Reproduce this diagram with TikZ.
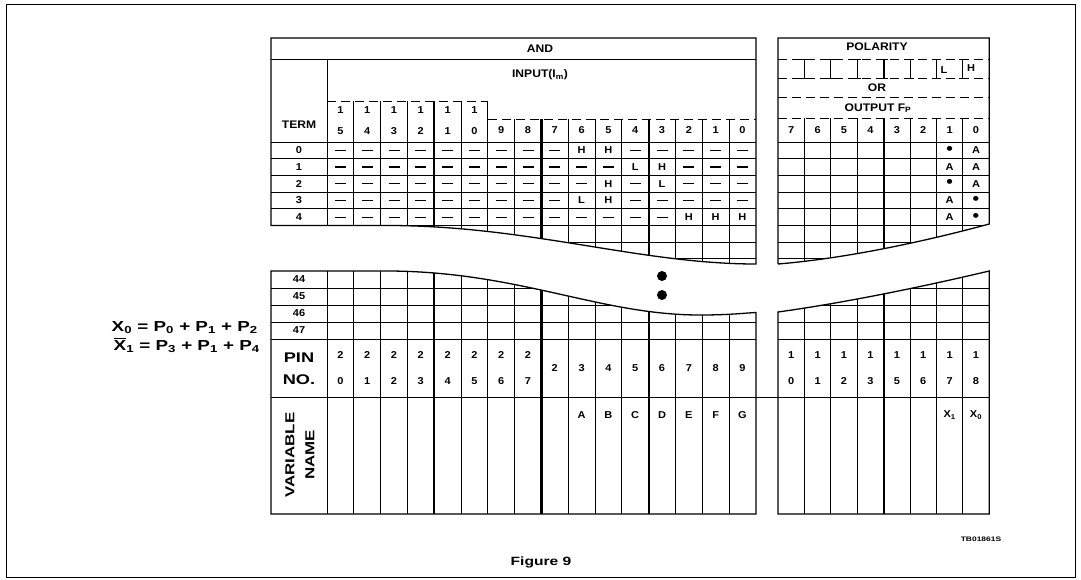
\documentclass[tikz,border=0pt]{standalone}
\usepackage{fontspec}
\setmainfont{Liberation Sans}[FakeStretch=1.1]
\newfontfamily\widefont{Liberation Sans}[FakeStretch=1.3]
\usetikzlibrary{positioning}

% dash in an AND cell, or the letter itself
\newcommand{\andmark}[1]{\edef\tmpa{#1}\def\tmpb{-}\ifx\tmpa\tmpb\rule{11pt}{1.3pt}\else#1\fi}
% complemented output name
\newcommand{\barX}{{\setbox0\hbox{X}\rlap{\rule[\dimexpr\ht0+1.8pt\relax]{\wd0}{1.2pt}}X}}
\newcommand{\fuse}{{\fontsize{17}{17}\selectfont\textbullet}}

\begin{document}
\begin{tikzpicture}[x=1pt,y=-1pt,
  every node/.style={inner sep=0pt, font=\bfseries\fontsize{10}{12}\selectfont},
  headtext/.style={font=\bfseries\fontsize{11}{13}\selectfont},
  bigtext/.style={font=\widefont\bfseries\fontsize{14}{17}\selectfont},
  gridline/.style={line width=0.9pt},
  sepline/.style={line width=2.2pt},
  frameline/.style={line width=1.3pt},
  dashline/.style={line width=0.9pt, dash pattern=on 9pt off 5pt}]
\useasboundingbox (0,0) rectangle (1081,579);
\draw[gridline] (6,4) rectangle (1075,577);

% AND part, upper half
\begin{scope}
  \clip (271,30) -- (756,30) -- (756,264) .. controls (640,264) and (530,226) .. (390,225.5) -- (271,225.5) -- cycle;
  \foreach \k in {0,...,7} \draw[gridline] (271,142+\k*16.7) -- (756,142+\k*16.7);
  \foreach \i in {1,2,3,5,6} \draw[gridline] (327+\i*26.8,101) -- (327+\i*26.8,270);
  \foreach \i in {7,9,10,11,13,14,15} \draw[gridline] (327+\i*26.8,119) -- (327+\i*26.8,270);
  \draw[sepline] (434.2,101) -- (434.2,270);
  \foreach \i in {8,12} \draw[sepline] (327+\i*26.8,119) -- (327+\i*26.8,270);
\end{scope}
\draw[frameline] (271,225.5) -- (271,38) -- (756,38) -- (756,264) .. controls (640,264) and (530,226) .. (390,225.5) -- cycle;
\draw[gridline] (271,59) -- (756,59);
\draw[gridline] (327,59) -- (327,225.5);
\draw[dashline] (327,101) -- (487.8,101);
\draw[dashline] (487.8,119) -- (756,119);

% AND part, lower half
\begin{scope}
  \clip (271,271) -- (390,271) .. controls (520,272) and (600,315) .. (700,315) .. controls (730,315) and (745,313) .. (756,312.5) -- (756,520) -- (271,520) -- cycle;
  \foreach \y in {288,305,322,339,397} \draw[gridline] (271,\y) -- (756,\y);
  \foreach \i in {1,2,3,5,6,7,9,10,11,13,14,15} \draw[gridline] (327+\i*26.8,260) -- (327+\i*26.8,514);
  \foreach \i in {4,8,12} \draw[sepline] (327+\i*26.8,260) -- (327+\i*26.8,514);
\end{scope}
\draw[frameline] (271,514) -- (271,271) -- (390,271) .. controls (520,272) and (600,315) .. (700,315) .. controls (730,315) and (745,313) .. (756,312.5) -- (756,514) -- cycle;
\draw[gridline] (327,271) -- (327,514);
\draw[gridline] (756,397) -- (778,397);

% OR part, upper half
\begin{scope}
  \clip (778,30) -- (989.2,30) -- (989.2,224) .. controls (930,240) and (850,258) .. (778,264) -- cycle;
  \foreach \k in {0,...,7} \draw[gridline] (778,142+\k*16.7) -- (990,142+\k*16.7);
  \foreach \j in {1,2,3,5,6,7} \draw[gridline] (778+\j*26.4,118) -- (778+\j*26.4,270);
  \draw[sepline] (883.6,118) -- (883.6,270);
\end{scope}
\draw[frameline] (778,264) -- (778,38) -- (989.2,38) -- (989.2,224) .. controls (930,240) and (850,258) .. (778,264);
\foreach \y in {59,78,97,118} \draw[dashline] (778,\y) -- (989.2,\y);
\foreach \j in {1,2,3,5,6,7} \draw[gridline] (774+\j*26.4,59) -- +(8,0) (778+\j*26.4,59) -- (778+\j*26.4,78) (774+\j*26.4,78) -- +(8,0);
\draw[sepline] (883.6,59) -- (883.6,78);
\draw[gridline] (879.6,59) -- +(8,0) (879.6,78) -- +(8,0);

% OR part, lower half
\begin{scope}
  \clip (778,312) .. controls (850,302) and (930,285) .. (989.2,271) -- (989.2,520) -- (778,520) -- cycle;
  \foreach \y in {288,305,322,339,397} \draw[gridline] (778,\y) -- (990,\y);
  \foreach \j in {1,2,3,5,6,7} \draw[gridline] (778+\j*26.4,260) -- (778+\j*26.4,514);
  \draw[sepline] (883.6,260) -- (883.6,514);
\end{scope}
\draw[frameline] (778,312) .. controls (850,302) and (930,285) .. (989.2,271) -- (989.2,514) -- (778,514) -- cycle;

% break dots
\fill (662,276) circle (5);
\fill (662,295) circle (5);

% AND headings
\node[headtext] (andhead) at (540,48.5) {AND};
\node[headtext] (inhead) at (540,75) {INPUT(I\textsubscript{m})};
\node[headtext] (termhead) at (299,125) {TERM};
\foreach \d [count=\i from 0] in {5,4,3,2,1,0} {
  \node (tens-\i) at (340.4+\i*26.8,110) {1};
  \node (unit-\i) at (340.4+\i*26.8,131.5) {\d};
}
\foreach \d [count=\i from 6] in {9,...,0} \node (in-\d) at (340.4+\i*26.8,130.5) {\d};

% product terms
\foreach \k in {0,...,4} \node (term-\k) at (299,150.35+\k*16.7) {\k};
\foreach \row [count=\k from 0] in {
  {-,-,-,-,-,-,-,-,-,H,H,-,-,-,-,-},
  {-,-,-,-,-,-,-,-,-,-,-,L,H,-,-,-},
  {-,-,-,-,-,-,-,-,-,-,H,-,L,-,-,-},
  {-,-,-,-,-,-,-,-,-,L,H,-,-,-,-,-},
  {-,-,-,-,-,-,-,-,-,-,-,-,-,H,H,H}}
  \foreach \v [count=\i from 0] in \row
    \node (cell-\k-\i) at (340.4+\i*26.8,150.35+\k*16.7) {\andmark{\v}};

% OR headings
\node[headtext] (polhead) at (877,47) {POLARITY};
\node (pol-l) at (944,70) {L};
\node (pol-h) at (971,68) {H};
\node[headtext] (orhead) at (877,88) {OR};
\node[headtext] (outhead) at (878,108) {OUTPUT F\textsubscript{P}};
\foreach \d [count=\j from 0] in {7,...,0} \node (out-\d) at (791.2+\j*26.4,130) {\d};
\foreach \a/\b [count=\k from 0] in {\fuse/A, A/A, \fuse/A, A/\fuse, A/\fuse} {
  \node (fone-\k) at (949.6,150.35+\k*16.7) {\a};
  \node (fzero-\k) at (976,150.35+\k*16.7) {\b};
}

% last terms, pins, names
\foreach \t [count=\k from 0] in {44,45,46,47} \node (term-\t) at (299,279.5+\k*17) {\t};
\node[bigtext] (pinhead) at (299,358) {PIN};
\node[bigtext] (nohead) at (299,379.5) {NO.};
\foreach \d [count=\i from 0] in {0,...,7} {
  \node (pintens-\i) at (340.4+\i*26.8,355) {2};
  \node (pinunit-\i) at (340.4+\i*26.8,381.5) {\d};
}
\foreach \d [count=\i from 8] in {2,...,9} \node (pin-\d) at (340.4+\i*26.8,368) {\d};
\foreach \d [count=\j from 0] in {0,1,2,3,5,6,7,8} {
  \node (opintens-\j) at (791.2+\j*26.4,355) {1};
  \node (opinunit-\j) at (791.2+\j*26.4,381.5) {\d};
}
\node[bigtext, rotate=90, align=center, font=\widefont\bfseries\fontsize{13}{20}\selectfont] (varhead) at (300,455) {VARIABLE\\NAME};
\foreach \n [count=\i from 9] in {A,...,G} \node (var-\n) at (340.4+\i*26.8,415) {\n};
\node (var-x1) at (949.6,415) {X\textsubscript{1}};
\node (var-x0) at (976,415) {X\textsubscript{0}};

% equations
\node[bigtext, anchor=base east, font=\widefont\bfseries\fontsize{14.5}{17}\selectfont] (eqzero) at (258,331.5) {X\textsubscript{0} = P\textsubscript{0} + P\textsubscript{1} + P\textsubscript{2}};
\node[bigtext, anchor=base east, font=\widefont\bfseries\fontsize{14.5}{17}\selectfont] (eqone) at (260,350.5) {\barX\textsubscript{1} = P\textsubscript{3} + P\textsubscript{1} + P\textsubscript{4}};

\node[font=\widefont\bfseries\fontsize{6.5}{8}\selectfont] (tbref) at (981,539) {TB01861S};
\node[font=\widefont\bfseries\fontsize{12}{14}\selectfont] (figcap) at (541,562) {Figure 9};
\end{tikzpicture}
\end{document}
